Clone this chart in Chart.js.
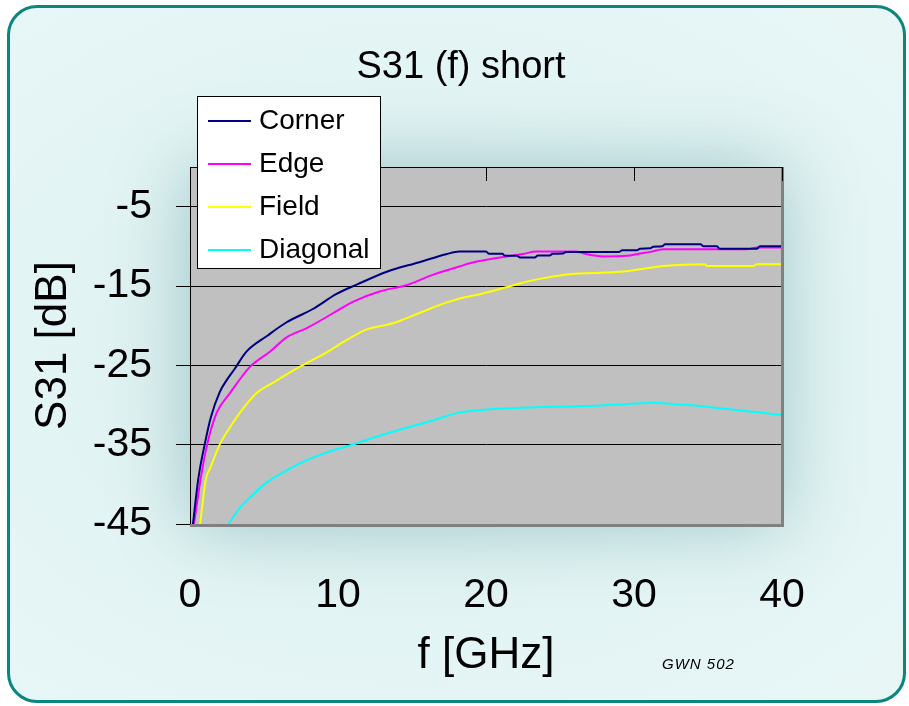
<!DOCTYPE html>
<html>
<head>
<meta charset="utf-8">
<script src="https://cdn.jsdelivr.net/npm/chart.js@4.4.0/dist/chart.umd.min.js"></script>
<style>
  html, body { margin: 0; padding: 0; background: #ffffff; }
  #wrap { position: relative; width: 909px; height: 706px; overflow: hidden; }
  #frame {
    position: absolute; left: 7px; top: 5px; width: 899px; height: 698px;
    box-sizing: border-box; border: 3px solid #0b857f; border-radius: 30px;
    background: radial-gradient(ellipse at 45% 50%, #d8eded 0%, #e3f4f4 55%, #e8f6f6 100%);
  }
  #chart { position: absolute; left: 0; top: 0; }
</style>
</head>
<body>
<div id="wrap">
  <div id="frame"></div>
  <canvas id="chart" width="909" height="706"></canvas>
</div>
<script>
const seriesNames = ['Corner', 'Edge', 'Field', 'Diagonal'];
const seriesColors = ['#000080', '#ff00ff', '#ffff00', '#00ffff'];

// frequency [GHz] / S31 [dB]
const cornerFreq = [0.2, 0.56, 1.0, 1.4, 2.0, 2.5, 3.0, 3.8, 5.2, 6.5, 8.3, 9.9, 11.3, 13.3, 15.5, 17.3, 18.2, 20.0, 20.2, 21.1, 21.3, 22.1, 22.3, 23.3, 23.5, 24.3, 24.5, 25.2, 25.4, 29.0, 29.2, 30.2, 30.4, 31.1, 31.3, 31.9, 32.1, 34.5, 34.7, 35.6, 35.8, 38.3, 38.5, 40];
const cornerS31 = [-45, -39.3, -34.9, -31.6, -28.4, -26.8, -25.5, -23.3, -21.3, -19.6, -17.9, -16.0, -14.8, -13.2, -12.0, -11.0, -10.65, -10.65, -10.95, -10.95, -11.2, -11.2, -11.4, -11.4, -11.15, -11.15, -10.95, -10.9, -10.7, -10.7, -10.5, -10.5, -10.3, -10.25, -10.05, -10.0, -9.75, -9.75, -10.0, -10.0, -10.3, -10.3, -10.0, -10.0];

const edgeFreq = [0.27, 0.72, 1.17, 1.8, 2.7, 4.05, 5.4, 6.5, 7.9, 9.7, 11.0, 12.8, 14.6, 16.4, 18.2, 18.9, 19.6, 20.5, 21.6, 22.5, 23.4, 26.1, 26.8, 27.9, 29.5, 30.4, 31.1, 32.0, 37.6, 38.3, 40];
const edgeS31 = [-45, -39.3, -34.9, -31.0, -28.5, -25.2, -23.3, -21.5, -20.3, -18.4, -17.0, -15.7, -14.9, -13.6, -12.55, -12.13, -11.84, -11.54, -11.21, -10.96, -10.65, -10.65, -11.0, -11.28, -11.2, -10.9, -10.7, -10.37, -10.37, -10.15, -10.15];

const fieldFreq = [0.68, 1.08, 1.35, 2.03, 2.7, 3.4, 4.5, 5.6, 7.4, 9.2, 10.6, 11.9, 13.7, 15.5, 17.3, 18.24, 19.6, 20.5, 22.1, 23.6, 25.2, 26.6, 29.3, 30.4, 32.0, 34.8, 34.9, 38.1, 38.3, 40];
const fieldS31 = [-45, -39.3, -38.0, -34.9, -32.8, -30.9, -28.5, -27.2, -25.2, -23.4, -21.8, -20.5, -19.7, -18.4, -17.1, -16.57, -16.03, -15.6, -14.77, -14.1, -13.6, -13.4, -13.17, -12.9, -12.47, -12.25, -12.47, -12.47, -12.25, -12.25];

const diagonalFreq = [2.6, 3.4, 4.2, 4.95, 6.1, 7.6, 9.2, 10.8, 12.6, 14.4, 16.5, 18.2, 19.6, 21.8, 27.2, 29.5, 31.4, 32.6, 34.3, 35.5, 36.8, 38.0, 39.1, 40];
const diagonalS31 = [-45, -42.9, -41.4, -40.1, -38.7, -37.2, -36.0, -35.1, -34.0, -33.0, -31.9, -30.93, -30.64, -30.39, -30.1, -29.89, -29.72, -29.89, -30.1, -30.35, -30.6, -30.86, -31.06, -31.27];

const xTicks = [0, 10, 20, 30, 40];
const yTicks = [-45, -35, -25, -15, -5];

const FONT = "'Liberation Sans', Arial, sans-serif";

const toPoints = (xs, ys) => xs.map((x, i) => ({ x: x, y: ys[i] }));
const seriesData = [
  toPoints(cornerFreq, cornerS31),
  toPoints(edgeFreq, edgeS31),
  toPoints(fieldFreq, fieldS31),
  toPoints(diagonalFreq, diagonalS31)
];

const decorPlugin = {
  id: 'decor',
  beforeDraw(chart) {
    const { ctx, chartArea: a } = chart;
    ctx.save();
    ctx.shadowColor = 'rgba(75, 140, 145, 0.45)';
    ctx.shadowBlur = 70;
    ctx.fillStyle = '#c0c0c0';
    ctx.fillRect(a.left, a.top, a.right - a.left, a.bottom - a.top);
    ctx.restore();
  },
  afterDatasetsDraw(chart) {
    const { ctx, chartArea: a, scales } = chart;
    ctx.save();
    // plot area edges
    ctx.strokeStyle = '#808080';
    ctx.lineWidth = 3;
    ctx.beginPath();
    ctx.moveTo(a.right + 0.5, a.top);
    ctx.lineTo(a.right + 0.5, a.bottom + 1.5);
    ctx.lineTo(a.left, a.bottom + 1.5);
    ctx.stroke();
    ctx.strokeStyle = '#000000';
    ctx.lineWidth = 1;
    ctx.beginPath();
    ctx.moveTo(a.left, a.top + 0.5);
    ctx.lineTo(a.right, a.top + 0.5);
    // x tick marks hang inward from the top edge
    xTicks.forEach(v => {
      const px = Math.round(scales.x.getPixelForValue(v)) + 0.5;
      ctx.moveTo(px, a.top);
      ctx.lineTo(px, a.top + 14);
    });
    ctx.stroke();
    ctx.restore();
  },
  afterDraw(chart) {
    const { ctx } = chart;
    ctx.save();
    // title
    ctx.fillStyle = '#000';
    ctx.font = '38px ' + FONT;
    ctx.textAlign = 'center';
    ctx.textBaseline = 'alphabetic';
    ctx.fillText('S31 (f) short', 461, 78);

    // legend box
    ctx.fillStyle = '#ffffff';
    ctx.fillRect(197, 96, 183, 172);
    ctx.strokeStyle = '#000';
    ctx.lineWidth = 1;
    ctx.strokeRect(197.5, 96.5, 183, 172);
    ctx.font = '28px ' + FONT;
    ctx.textAlign = 'left';
    ctx.textBaseline = 'middle';
    chart.data.datasets.forEach((ds, i) => {
      const y = 121 + i * 43;
      ctx.strokeStyle = ds.borderColor;
      ctx.lineWidth = 2;
      ctx.beginPath();
      ctx.moveTo(208, y);
      ctx.lineTo(251, y);
      ctx.stroke();
      ctx.fillStyle = '#000';
      ctx.fillText(ds.label, 259, y);
    });

    // stamp
    ctx.font = 'italic 15px ' + FONT;
    ctx.letterSpacing = '1px';
    ctx.textBaseline = 'alphabetic';
    ctx.fillText('GWN 502', 662, 669);
    ctx.restore();
  }
};

new Chart(document.getElementById('chart'), {
  type: 'line',
  data: {
    datasets: seriesNames.map((name, i) => ({
      label: name,
      data: seriesData[i],
      borderColor: seriesColors[i],
      backgroundColor: seriesColors[i],
      borderWidth: 2,
      pointRadius: 0,
      cubicInterpolationMode: 'monotone',
      fill: false
    }))
  },
  options: {
    responsive: false,
    animation: false,
    layout: { padding: { top: 167, left: 13, right: 127, bottom: 0 } },
    plugins: {
      legend: { display: false },
      title: { display: false },
      tooltip: { enabled: false }
    },
    scales: {
      x: {
        type: 'linear',
        min: 0,
        max: 40,
        afterBuildTicks: scale => { scale.ticks = xTicks.map(v => ({ value: v })); },
        afterFit: scale => { scale.height = 182; },
        grid: { drawOnChartArea: false, drawTicks: false },
        border: { display: false },
        ticks: {
          color: '#000',
          padding: 47,
          maxRotation: 0,
          font: { family: FONT, size: 41 }
        },
        title: {
          display: true,
          text: 'f [GHz]',
          color: '#000',
          padding: { top: 0, bottom: 24 },
          font: { family: FONT, size: 44 }
        }
      },
      y: {
        type: 'linear',
        min: -45,
        max: 0,
        afterBuildTicks: scale => { scale.ticks = yTicks.map(v => ({ value: v })); },
        afterFit: scale => { scale.width = 177; },
        grid: { color: '#000', lineWidth: 1, tickLength: 14 },
        border: { display: true, color: '#000', width: 1 },
        ticks: {
          color: '#000',
          padding: 24,
          font: { family: FONT, size: 41 }
        },
        title: {
          display: true,
          text: 'S31 [dB]',
          color: '#000',
          padding: { top: 14, bottom: 0 },
          font: { family: FONT, size: 44 }
        }
      }
    }
  },
  plugins: [decorPlugin]
});
</script>
</body>
</html>
